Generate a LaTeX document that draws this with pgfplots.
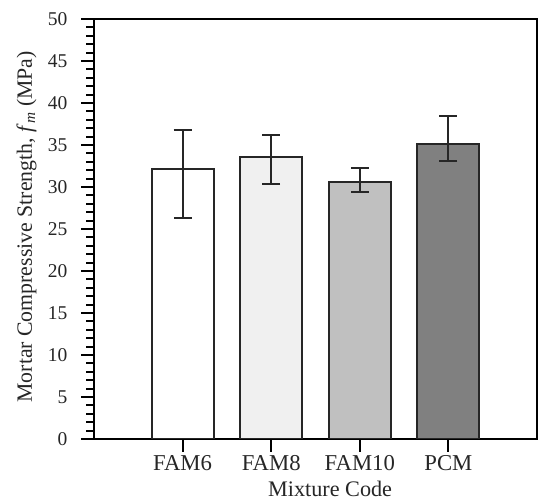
\documentclass[border=0pt]{standalone}
\usepackage{pgfplots}
\pgfplotsset{compat=1.18}
\usepackage{fontspec}
\setmainfont{Liberation Serif}
\definecolor{cA}{HTML}{FFFFFF}
\definecolor{cB}{HTML}{F0F0F0}
\definecolor{cC}{HTML}{C0C0C0}
\definecolor{cD}{HTML}{808080}
\begin{document}
\begin{tikzpicture}
\begin{axis}[
  at={(94pt,64pt)}, anchor=south west,
  scale only axis, width=443pt, height=420pt,
  xmin=0, xmax=5, ymin=0, ymax=50,
  xtick={1,2,3,4}, xticklabels={FAM6,FAM8,FAM10,PCM},
  ytick={0,5,...,50},
  minor y tick num=4,
  tick align=outside,
  xtick pos=bottom, ytick pos=left,
  major tick length=13pt, minor tick length=8pt,
  every tick/.style={black, line width=2pt},
  axis line style={line width=2.4pt, black},
  ticklabel style={font=\fontsize{19.5}{19.5}\selectfont, text=black!85},
  yticklabel style={xshift=-10pt},
  xticklabel style={font=\fontsize{22.7}{22.7}\selectfont},
  /pgf/number format/assume math mode=true,
  xlabel={Mixture Code},
  ylabel={Mortar Compressive Strength, \textit{f}\textsubscript{\textit{m}} (MPa)},
  label style={text=black!85},
  xlabel style={font=\fontsize{22.2}{22.2}\selectfont, at={(axis description cs:0.533,-0.138)}, anchor=base},
  ylabel style={font=\fontsize{21.8}{21.8}\selectfont, at={(axis description cs:-0.14,0.505)}, anchor=base},
  ybar, bar width=62pt, bar shift=0pt,
  every axis plot/.append style={draw=black!85, line width=2pt},
  error bars/y dir=both, error bars/y explicit,
  error bars/error bar style={line width=2pt, black!85},
  error bars/error mark options={rotate=90, mark size=9pt, line width=2pt, black!85},
]
\addplot[fill=cA] coordinates {(1,32.2) += (0,4.6) -= (0,5.9)};
\addplot[fill=cB] coordinates {(2,33.6) += (0,2.6) -= (0,3.2)};
\addplot[fill=cC] coordinates {(3,30.6) += (0,1.7) -= (0,1.2)};
\addplot[fill=cD] coordinates {(4,35.1) += (0,3.4) -= (0,2.0)};
\end{axis}
\pgfresetboundingbox
\path (0,0) rectangle (538pt,503pt);
\end{tikzpicture}
\end{document}
